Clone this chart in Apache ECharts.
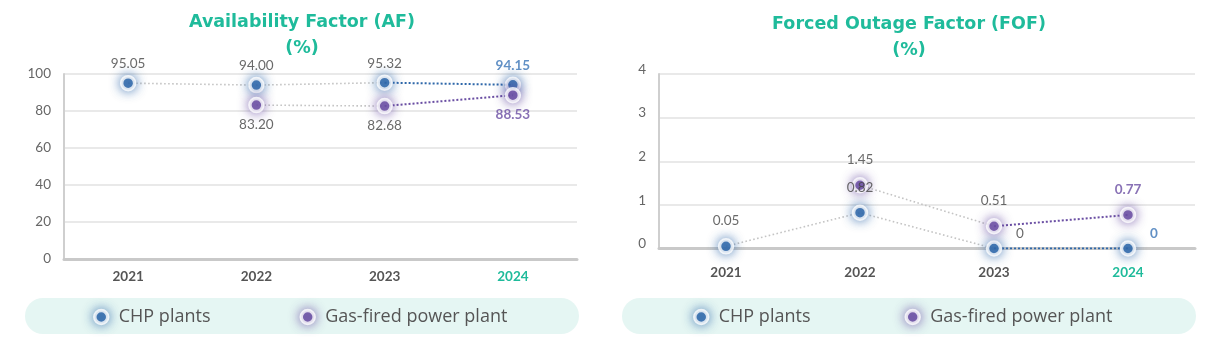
<!DOCTYPE html>
<html>
<head>
<meta charset="utf-8">
<script src="https://cdn.jsdelivr.net/npm/echarts@6/dist/echarts.min.js"></script>
<style>
html,body{margin:0;padding:0;background:#fff;}
#c{width:1218px;height:343px;}
</style>
</head>
<body>
<div id="c"></div>
<script>
const years = ['2021', '2022', '2023', '2024'];
const seriesNames = ['CHP plants', 'Gas-fired power plant'];
const afChp = [95.05, 94.00, 95.32, 94.15];
const afGas = [null, 83.20, 82.68, 88.53];
const fofChp = [0.05, 0.82, 0, 0];
const fofGas = [null, 1.45, 0.51, 0.77];
const titles = ['Availability Factor (AF)\n(%)', 'Forced Outage Factor (FOF)\n(%)'];

const FONT = 'Lato, "Open Sans", sans-serif';
const TITLE_FONT = '"DejaVu Sans", sans-serif';
const LEG_FONT = '"Open Sans", sans-serif';
const TEAL = '#1fbb9b';
const BLUE = '#2f68aa';
const PURPLE = '#6a4ea3';
const BLUE_LBL = '#3a74b6';
const GRAY_LINE = '#c4c4c4';

function markerStyle(color) {
  return {
    color: color,
    borderColor: '#fff',
    borderWidth: 3.5,
    shadowBlur: 11,
    shadowColor: color === BLUE ? 'rgba(47,104,170,0.9)' : 'rgba(106,78,163,0.9)'
  };
}

function fmt(v) {
  if (v === 0) return '0';
  return v.toFixed(2);
}

function buildSeries(idx, name, vals, color, lblColor, below, zeroOffset, dist) {
  const grayData = vals.map((v, i) => (i < 3 && v !== null) ? v : '-');
  const segData = vals.map((v, i) => (i >= 2 && v !== null) ? v : '-');
  const scatterData = vals.map((v, i) => {
    if (v === null) return '-';
    const last = i === years.length - 1;
    const item = {
      value: v,
      label: {
        show: true,
        formatter: fmt(v),
        color: last ? lblColor : '#444',
        fontWeight: last ? 'bold' : 'normal',
        fontSize: 13.5,
        fontFamily: FONT,
        position: below ? 'bottom' : 'top',
        distance: dist
      }
    };
    if (zeroOffset && v === 0) {
      item.label.position = 'top';
      item.label.offset = [26, 10];
    }
    return item;
  });
  return [
    {
      type: 'line', xAxisIndex: idx, yAxisIndex: idx, data: grayData,
      symbol: 'none', silent: true, z: 2,
      lineStyle: { color: GRAY_LINE, width: 1.6, type: [1.6, 2.4] }
    },
    {
      type: 'line', xAxisIndex: idx, yAxisIndex: idx, data: segData,
      symbol: 'none', silent: true, z: 3,
      lineStyle: { color: color, width: 2, type: [2, 2] }
    },
    {
      type: 'scatter', name: name, xAxisIndex: idx, yAxisIndex: idx,
      data: scatterData, symbol: 'circle', symbolSize: 13, z: 5,
      itemStyle: markerStyle(color)
    }
  ];
}

const grids = [
  { left: 64, top: 74, width: 513, height: 185 },
  { left: 659, top: 74, width: 536, height: 174.5 }
];

const chart = echarts.init(document.getElementById('c'), null, { renderer: 'canvas' });

const xAxes = grids.map((g, i) => ({
  type: 'category', gridIndex: i, data: years, boundaryGap: true,
  axisLine: { lineStyle: { color: '#c9c9c9', width: 3 } },
  axisTick: { show: false },
  axisLabel: {
    margin: i === 0 ? 11 : 17,
    fontSize: 13.5, fontWeight: 'bold', fontFamily: FONT,
    color: (val, index) => index === years.length - 1 ? TEAL : '#555'
  }
}));

const yAxes = [
  {
    type: 'value', gridIndex: 0, min: 0, max: 100, interval: 20,
    axisLine: { show: true, lineStyle: { color: '#cfcfcf', width: 2 } },
    axisTick: { show: false },
    splitLine: { lineStyle: { color: '#e2e2e2', width: 1.5 } },
    axisLabel: { margin: 13, fontSize: 13.5, color: '#666', fontFamily: FONT }
  },
  {
    type: 'value', gridIndex: 1, min: 0, max: 4, interval: 1,
    axisLine: { show: true, lineStyle: { color: '#cfcfcf', width: 2 } },
    axisTick: { show: false },
    splitLine: { lineStyle: { color: '#e2e2e2', width: 1.5 } },
    axisLabel: { margin: 13, fontSize: 13.5, color: '#666', fontFamily: FONT, verticalAlign: 'bottom', lineHeight: 9 }
  }
];

const legendCfg = [{ left: 88, gap: 89 }, { left: 688, gap: 94 }];
const legends = legendCfg.map(c => ({
  left: c.left, top: 303, itemGap: c.gap, icon: 'circle', itemWidth: 13, itemHeight: 13,
  selectedMode: false,
  textStyle: { fontSize: 18, color: '#555', fontFamily: LEG_FONT, padding: [0, 0, 0, 6] },
  data: [
    { name: seriesNames[0], itemStyle: markerStyle(BLUE) },
    { name: seriesNames[1], itemStyle: markerStyle(PURPLE) }
  ]
}));

const titleComps = [
  { text: titles[0], left: 297, top: 4 },
  { text: titles[1], left: 904, top: 6 }
].map(t => ({
  text: t.text, left: t.left, top: t.top, textAlign: 'center',
  textStyle: { fontSize: 17.5, fontWeight: 'bold', color: TEAL, lineHeight: 26, fontFamily: TITLE_FONT }
}));

const series = [].concat(
  buildSeries(0, seriesNames[0], afChp, BLUE, BLUE_LBL, false, false, 4),
  buildSeries(0, seriesNames[1], afGas, PURPLE, PURPLE, true, false, 4),
  buildSeries(1, seriesNames[0], fofChp, BLUE, BLUE_LBL, false, true, 10),
  buildSeries(1, seriesNames[1], fofGas, PURPLE, PURPLE, false, false, 10)
);

chart.setOption({
  animation: false,
  backgroundColor: '#fff',
  title: titleComps,
  grid: grids,
  xAxis: xAxes,
  yAxis: yAxes,
  legend: legends,
  graphic: [
    { type: 'rect', left: 25, top: 298, z: -10, shape: { width: 554, height: 36, r: 18 }, style: { fill: '#e5f6f3' } },
    { type: 'rect', left: 622, top: 298, z: -10, shape: { width: 574, height: 36, r: 18 }, style: { fill: '#e5f6f3' } }
  ],
  series: series
});
</script>
</body>
</html>
